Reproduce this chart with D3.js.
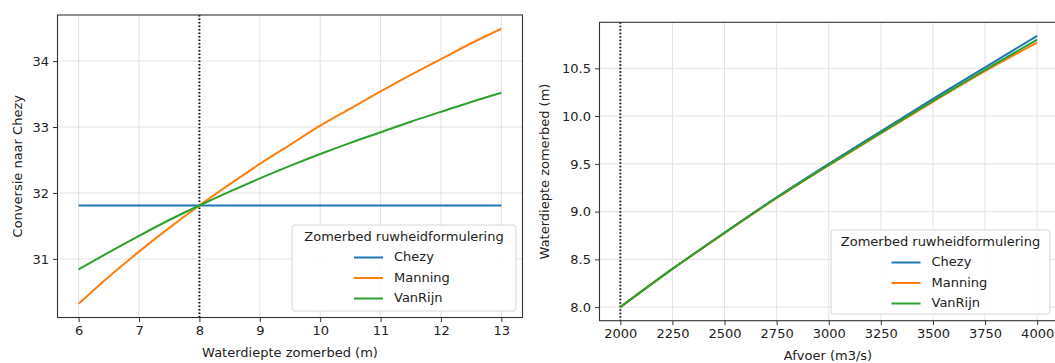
<!DOCTYPE html>
<html>
<head>
<meta charset="utf-8">
<script src="https://cdn.jsdelivr.net/npm/d3@7"></script>
<style>
  html, body { margin: 0; padding: 0; background: #fff; }
  svg { display: block; font-family: "DejaVu Sans", sans-serif; }
</style>
</head>
<body>
<svg id="chart" width="1055" height="363"></svg>
<script>
// ---- Left panel: conversion of roughness to Chezy vs water depth ----
const depth = [6, 6.5, 7, 7.5, 8, 8.5, 9, 9.5, 10, 10.5, 11, 11.5, 12, 12.5, 13];
const convChezy   = [31.81, 31.81, 31.81, 31.81, 31.81, 31.81, 31.81, 31.81, 31.81, 31.81, 31.81, 31.81, 31.81, 31.81, 31.81];
const convManning = [30.32, 30.73, 31.11, 31.47, 31.81, 32.13, 32.44, 32.73, 33.02, 33.28, 33.54, 33.79, 34.03, 34.27, 34.49];
const convVanRijn = [30.84, 31.10, 31.35, 31.59, 31.81, 32.02, 32.22, 32.41, 32.59, 32.76, 32.92, 33.08, 33.23, 33.38, 33.52];
const leftXTicks = [6, 7, 8, 9, 10, 11, 12, 13];
const leftYTicks = [31, 32, 33, 34];
const leftRef = 8;

// ---- Right panel: water depth vs discharge ----
const discharge = [2000, 2250, 2500, 2750, 3000, 3250, 3500, 3750, 4000];
const depthChezy   = [8.00, 8.40, 8.78, 9.15, 9.50, 9.84, 10.18, 10.51, 10.84];
const depthManning = [8.00, 8.40, 8.775, 9.14, 9.485, 9.82, 10.15, 10.47, 10.77];
const depthVanRijn = [8.00, 8.40, 8.777, 9.145, 9.49, 9.825, 10.16, 10.485, 10.80];
const rightXTicks = [2000, 2250, 2500, 2750, 3000, 3250, 3500, 3750, 4000];
const rightYTicks = [8.0, 8.5, 9.0, 9.5, 10.0, 10.5];
const rightRef = 2000;

const seriesNames = ["Chezy", "Manning", "VanRijn"];
const seriesColors = ["#1f77b4", "#ff7f0e", "#2ca02c"];
const legendTitle = "Zomerbed ruwheidformulering";

const svg = d3.select("#chart");
const textColor = "#222";
const fontSize = 13;

// pad a domain by 5% on each side
function padded(values) {
  const [lo, hi] = d3.extent(values);
  const m = (hi - lo) * 0.05;
  return [lo - m, hi + m];
}

function panel(opts) {
  const { box, xs, series, xTicks, yTicks, yFmt, xLabel, xLabelX, yLabel, yLabelX, ref, legendBox } = opts;
  const g = svg.append("g");
  const x = d3.scaleLinear().domain(padded(xs)).range([box.x0, box.x1]);
  const y = d3.scaleLinear().domain(padded(series.flat())).range([box.y1, box.y0]);

  const clipId = "clip" + Math.round(box.x0);
  svg.append("clipPath").attr("id", clipId)
    .append("rect").attr("x", box.x0).attr("y", box.y0)
    .attr("width", box.x1 - box.x0).attr("height", box.y1 - box.y0);

  // grid
  const grid = g.append("g").attr("stroke", "#e3e3e3").attr("stroke-width", 1);
  xTicks.forEach(t => grid.append("line")
    .attr("x1", x(t)).attr("x2", x(t)).attr("y1", box.y0).attr("y2", box.y1));
  yTicks.forEach(t => grid.append("line")
    .attr("x1", box.x0).attr("x2", box.x1).attr("y1", y(t)).attr("y2", y(t)));

  // reference depth / discharge
  g.append("line")
    .attr("x1", x(ref)).attr("x2", x(ref))
    .attr("y1", box.y0).attr("y2", box.y1)
    .attr("stroke", "#111").attr("stroke-width", 2)
    .attr("stroke-dasharray", "1.5,2");

  // series lines
  const line = d3.line().curve(d3.curveMonotoneX).x((d, i) => x(xs[i])).y(d => y(d));
  const lines = g.append("g").attr("clip-path", `url(#${clipId})`);
  series.forEach((s, i) => {
    lines.append("path").datum(s)
      .attr("d", line)
      .attr("fill", "none")
      .attr("stroke", seriesColors[i])
      .attr("stroke-width", 2)
      .attr("stroke-linejoin", "round");
  });

  // axes
  const xAxis = d3.axisBottom(x).tickValues(xTicks).tickSize(4.5).tickPadding(4).tickFormat(d3.format("d"));
  const yAxis = d3.axisLeft(y).tickValues(yTicks).tickSize(4.5).tickPadding(4).tickFormat(yFmt);
  const gx = g.append("g").attr("transform", `translate(0,${box.y1})`).call(xAxis);
  const gy = g.append("g").attr("transform", `translate(${box.x0},0)`).call(yAxis);
  [gx, gy].forEach(a => {
    a.select(".domain").remove();
    a.selectAll(".tick line").attr("stroke", "#333").attr("stroke-width", 1);
    a.selectAll(".tick text").attr("fill", textColor)
      .attr("font-size", fontSize).attr("font-family", "DejaVu Sans, sans-serif");
  });

  // frame
  g.append("rect")
    .attr("x", box.x0).attr("y", box.y0)
    .attr("width", box.x1 - box.x0).attr("height", box.y1 - box.y0)
    .attr("fill", "none").attr("stroke", "#333").attr("stroke-width", 1.1);

  // axis titles
  g.append("text")
    .attr("x", xLabelX)
    .attr("y", box.y1 + 36)
    .attr("text-anchor", "middle").attr("dominant-baseline", "middle")
    .attr("fill", textColor).attr("font-size", fontSize)
    .text(xLabel);
  g.append("text")
    .attr("transform", `translate(${yLabelX},${(box.y0 + box.y1) / 2}) rotate(-90)`)
    .attr("text-anchor", "middle").attr("dominant-baseline", "middle")
    .attr("fill", textColor).attr("font-size", fontSize)
    .text(yLabel);

  // legend
  const lg = g.append("g");
  lg.append("rect")
    .attr("x", legendBox.x0).attr("y", legendBox.y0)
    .attr("width", legendBox.x1 - legendBox.x0).attr("height", legendBox.y1 - legendBox.y0)
    .attr("rx", 3).attr("fill", "#fff").attr("fill-opacity", 0.85)
    .attr("stroke", "#d6d6d6").attr("stroke-width", 1);
  const cx = (legendBox.x0 + legendBox.x1) / 2;
  lg.append("text")
    .attr("x", cx).attr("y", legendBox.y0 + 12)
    .attr("text-anchor", "middle").attr("dominant-baseline", "middle")
    .attr("fill", textColor).attr("font-size", fontSize)
    .text(legendTitle);
  seriesNames.forEach((name, i) => {
    const ry = legendBox.y0 + 32.5 + i * 20.5;
    lg.append("line")
      .attr("x1", legendBox.hx).attr("x2", legendBox.hx + 29)
      .attr("y1", ry).attr("y2", ry)
      .attr("stroke", seriesColors[i]).attr("stroke-width", 2);
    lg.append("text")
      .attr("x", legendBox.hx + 40).attr("y", ry)
      .attr("dominant-baseline", "middle")
      .attr("fill", textColor).attr("font-size", fontSize)
      .text(name);
  });
}

panel({
  box: { x0: 57.5, x1: 522.5, y0: 15, y1: 317.5 },
  xs: depth,
  series: [convChezy, convManning, convVanRijn],
  xTicks: leftXTicks, yTicks: leftYTicks,
  yFmt: d3.format("d"),
  xLabel: "Waterdiepte zomerbed (m)",
  xLabelX: 290,
  yLabel: "Conversie naar Chezy",
  yLabelX: 18,
  ref: leftRef,
  legendBox: { x0: 292, x1: 516, y0: 225, y1: 311, hx: 354 }
});

panel({
  box: { x0: 599.5, x1: 1058, y0: 22.3, y1: 320.7 },
  xs: discharge,
  series: [depthChezy, depthManning, depthVanRijn],
  xTicks: rightXTicks, yTicks: rightYTicks,
  yFmt: d3.format(".1f"),
  xLabel: "Afvoer (m3/s)",
  xLabelX: 828,
  yLabel: "Waterdiepte zomerbed (m)",
  yLabelX: 545,
  ref: rightRef,
  legendBox: { x0: 831, x1: 1050, y0: 230, y1: 314, hx: 891.5 }
});
</script>
</body>
</html>
